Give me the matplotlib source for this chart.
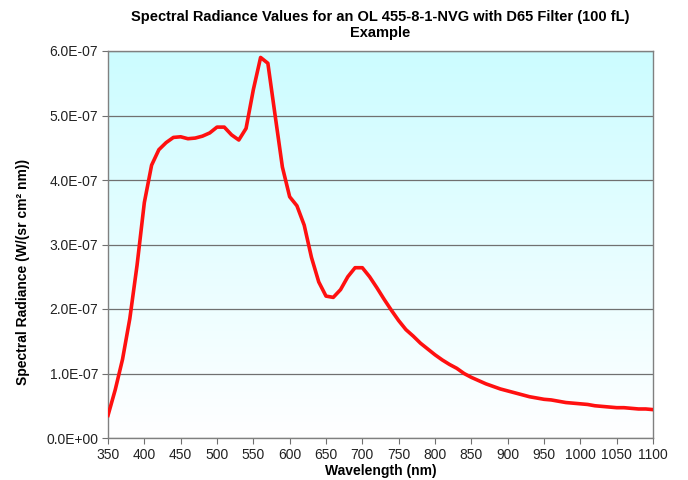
import numpy as np
import matplotlib.pyplot as plt
from matplotlib.colors import LinearSegmentedColormap
from matplotlib.ticker import FuncFormatter, MultipleLocator

plt.rcParams['font.family'] = ['Liberation Sans', 'DejaVu Sans']

# wavelength (nm) and spectral radiance (x1e-7 W/(sr cm^2 nm))
wavelength = list(range(350, 1101, 10))
radiance = [
    0.35, 0.75, 1.22, 1.85, 2.68, 3.65, 4.23, 4.47, 4.58, 4.66,
    4.67, 4.64, 4.65, 4.68, 4.73, 4.82, 4.82, 4.70, 4.62, 4.80,
    5.40, 5.90, 5.81, 5.00, 4.20, 3.74, 3.60, 3.30, 2.80, 2.42,
    2.20, 2.18, 2.30, 2.50, 2.64, 2.64, 2.50, 2.33, 2.15, 1.98,
    1.82, 1.68, 1.58, 1.47, 1.38, 1.29, 1.21, 1.14, 1.08, 1.00,
    0.94, 0.89, 0.84, 0.80, 0.76, 0.73, 0.70, 0.67, 0.64, 0.62,
    0.60, 0.59, 0.57, 0.55, 0.54, 0.53, 0.52, 0.50, 0.49, 0.48,
    0.47, 0.47, 0.46, 0.45, 0.45, 0.44,
]
radiance = np.array(radiance) * 1e-7

fig = plt.figure(figsize=(6.88, 4.8), dpi=100)
ax = fig.add_axes([108 / 688, 42 / 480, 545 / 688, 387 / 480])

# cyan -> white gradient plot area
grad = np.linspace(1, 0, 256).reshape(-1, 1)
cmap = LinearSegmentedColormap.from_list('bg', ['#ffffff', '#ccfcff'])
ax.imshow(grad, cmap=cmap, aspect='auto', extent=[0, 1, 0, 1],
          transform=ax.transAxes, zorder=0)

ax.plot(wavelength, radiance, color='#ff1010', linewidth=2.6, zorder=3,
        solid_joinstyle='round')

ax.set_xlim(350, 1100)
ax.set_ylim(0, 6e-7)
ax.xaxis.set_major_locator(MultipleLocator(50))
ax.yaxis.set_major_locator(MultipleLocator(1e-7))
ax.yaxis.set_major_formatter(FuncFormatter(lambda v, p: f"{v:.1E}"))
ax.grid(axis='y', color='#707070', linewidth=0.9, zorder=1)
ax.set_axisbelow(True)

for s in ax.spines.values():
    s.set_color('#808080')
    s.set_linewidth(1.0)
ax.tick_params(direction='out', length=4, color='#707070', labelsize=10,
               labelcolor='#222222', pad=3)

ax.set_xlabel('Wavelength (nm)', fontsize=10, fontweight='bold', va='center')
ax.xaxis.set_label_coords(0.5, -33 / 387)
ax.set_ylabel('Spectral Radiance (W/(sr cm² nm))', fontsize=10,
              fontweight='bold', va='center')
ax.yaxis.set_label_coords(-85 / 545, 0.43)

fig.text(380 / 688, 1 - 25 / 480,
         'Spectral Radiance Values for an OL 455-8-1-NVG with D65 Filter (100 fL)\nExample',
         ha='center', va='center', fontsize=10.5, fontweight='bold',
         linespacing=1.2)

fig.savefig('out.png', dpi=100)
